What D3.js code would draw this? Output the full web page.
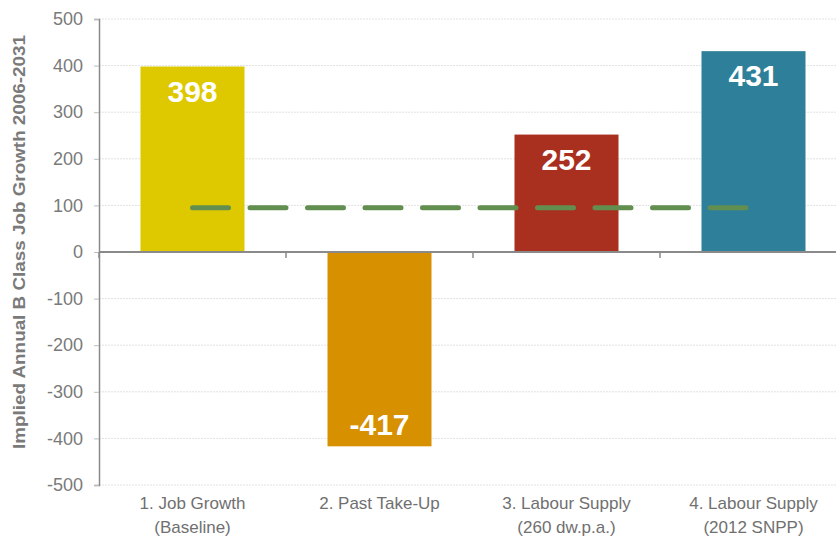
<!DOCTYPE html>
<html>
<head>
<meta charset="utf-8">
<script src="https://cdn.jsdelivr.net/npm/d3@7"></script>
<style>
  html, body { margin: 0; padding: 0; background: #fff; }
  svg { display: block; }
</style>
</head>
<body>
<svg id="chart" width="836" height="536"></svg>
<script>
// Scenario data
const scenarios = [
  ["1. Job Growth", "(Baseline)"],
  ["2. Past Take-Up"],
  ["3. Labour Supply", "(260 dw.p.a.)"],
  ["4. Labour Supply", "(2012 SNPP)"]
];
const jobGrowth = [398, -417, 252, 431];
const barColors = ["#dec800", "#d79000", "#a9301f", "#2e7f99"];
const referenceLevel = [95, 95, 95, 95];
const yTicks = [500, 400, 300, 200, 100, 0, -100, -200, -300, -400, -500];

const svg = d3.select("#chart");
const margin = { left: 99, right: -11, top: 19, bottom: 51 };
const W = 836, H = 536;

const x = d3.scaleBand()
  .domain(d3.range(scenarios.length))
  .range([margin.left, W - margin.right])
  .paddingInner(0)
  .paddingOuter(0);

const y = d3.scaleLinear()
  .domain([-500, 500])
  .range([H - margin.bottom, margin.top]);

const barW = 104;
const font = "'Liberation Sans', Arial, sans-serif";

// horizontal gridlines
svg.append("g")
  .selectAll("line")
  .data(yTicks.filter(d => d !== 0))
  .join("line")
  .attr("x1", margin.left)
  .attr("x2", W)
  .attr("y1", d => y(d))
  .attr("y2", d => y(d))
  .attr("stroke", "#e2e2e2")
  .attr("stroke-width", 1)
  .attr("stroke-dasharray", "2,1");

// y axis (plain hyphen for negatives)
const yAxis = d3.axisLeft(y)
  .tickValues(yTicks)
  .tickFormat(d => String(d))
  .tickSize(5)
  .tickPadding(11);
const gy = svg.append("g")
  .attr("transform", `translate(${margin.left},0)`)
  .call(yAxis);
gy.select(".domain").attr("stroke", "#8a8a8a").attr("stroke-width", 1.5);
gy.selectAll(".tick line").attr("stroke", "#bdbdbd");
gy.selectAll(".tick text")
  .attr("fill", "#7a7a7a")
  .attr("font-family", font)
  .attr("font-size", 18);

// bars
svg.append("g")
  .selectAll("rect")
  .data(jobGrowth)
  .join("rect")
  .attr("x", (d, i) => x(i) + x.bandwidth() / 2 - barW / 2)
  .attr("width", barW)
  .attr("y", d => y(Math.max(0, d)))
  .attr("height", d => Math.abs(y(d) - y(0)))
  .attr("fill", (d, i) => barColors[i]);

// zero baseline with category boundary ticks
svg.append("line")
  .attr("x1", margin.left).attr("x2", W)
  .attr("y1", y(0)).attr("y2", y(0))
  .attr("stroke", "#8a8a8a").attr("stroke-width", 2);
svg.append("g")
  .selectAll("line")
  .data(d3.range(scenarios.length))
  .join("line")
  .attr("x1", i => x(i)).attr("x2", i => x(i))
  .attr("y1", y(0)).attr("y2", y(0) + 6)
  .attr("stroke", "#8a8a8a").attr("stroke-width", 1.5);

// reference level dashed line
const line = d3.line()
  .x((d, i) => x(i) + x.bandwidth() / 2)
  .y(d => y(d));
svg.append("path")
  .datum(referenceLevel)
  .attr("d", line)
  .attr("fill", "none")
  .attr("stroke", "#628f4f")
  .attr("stroke-width", 5)
  .attr("stroke-linecap", "round")
  .attr("stroke-dasharray", "36,21.5");

// value labels
svg.append("g")
  .selectAll("text")
  .data(jobGrowth)
  .join("text")
  .attr("x", (d, i) => x(i) + x.bandwidth() / 2)
  .attr("y", d => d >= 0 ? y(d) + 35 : y(d) - 11)
  .attr("text-anchor", "middle")
  .attr("fill", "#fff")
  .attr("font-family", font)
  .attr("font-weight", "bold")
  .attr("font-size", 30)
  .text(d => d);

// category labels
const cat = svg.append("g")
  .selectAll("text")
  .data(scenarios)
  .join("text")
  .attr("x", (d, i) => x(i) + x.bandwidth() / 2)
  .attr("y", H - margin.bottom + 24)
  .attr("text-anchor", "middle")
  .attr("fill", "#707070")
  .attr("font-family", font)
  .attr("font-size", 17);
cat.selectAll("tspan")
  .data(d => d)
  .join("tspan")
  .attr("x", function () { return this.parentNode.getAttribute("x"); })
  .attr("dy", (d, i) => i === 0 ? 0 : 24)
  .text(d => d);

// y axis title
svg.append("text")
  .attr("transform", `translate(25, ${y(0) - 10}) rotate(-90)`)
  .attr("text-anchor", "middle")
  .attr("fill", "#7a7a7a")
  .attr("font-family", font)
  .attr("font-weight", "bold")
  .attr("font-size", 17)
  .attr("textLength", 414)
  .attr("lengthAdjust", "spacingAndGlyphs")
  .text("Implied Annual B Class Job Growth 2006-2031");
</script>
</body>
</html>
